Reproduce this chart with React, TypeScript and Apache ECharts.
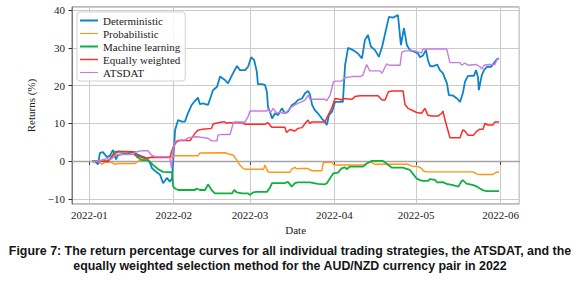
import React, { useEffect, useRef } from 'react';
import * as echarts from 'echarts';

// x values: days since 2022-01-01 ; y values: returns (%)
const seriesNames = ['Deterministic', 'Probabilistic', 'Machine learning', 'Equally weighted', 'ATSDAT'];

const deterministic: [number, number][] = [
  [1.0, 0], [2.1, 0], [3.2, -0.8], [3.9, 2.2], [5.0, 2.4], [6.5, 1.1], [7.6, 1.5], [8.7, 3.0], [9.8, 0.5],
  [10.5, 1.6], [12.0, 1.9], [14.2, 2.0], [15.7, 2.4], [18.6, 1.5], [21.2, 0.8], [22.3, -0.5], [23.0, -1.8],
  [24.1, -2.5], [26.0, -3.6], [27.1, -5.8], [28.5, -4.4], [29.6, -5.4], [30.4, -4.5], [31.5, 8.3], [32.6, 10.9],
  [34.0, 10.5], [35.1, 10.5], [36.2, 12.7], [37.6, 14.9], [38.8, 16.0], [39.9, 16.8], [40.6, 15.1], [41.7, 15.3],
  [43.6, 14.9], [45.4, 18.8], [46.9, 19.7], [48.0, 22.4], [49.8, 21.5], [50.9, 20.6], [52.4, 22.8], [54.2, 25.2],
  [55.3, 24.1], [57.2, 24.1], [58.3, 25.0], [59.4, 27.5], [60.5, 26.8], [61.5, 23.7], [61.9, 20.4], [63.4, 20.4],
  [64.5, 20.2], [65.2, 18.4], [65.6, 14.4], [66.3, 13.1], [67.1, 11.3], [68.2, 12.7], [69.3, 12.2], [70.7, 14.0],
  [71.8, 12.7], [72.9, 13.1], [74.4, 14.9], [75.5, 15.3], [76.6, 16.2], [78.1, 16.6], [79.2, 18.0], [80.3, 18.6],
  [81.0, 17.7], [81.8, 14.9], [82.8, 13.5], [83.9, 12.7], [85.4, 11.3], [86.5, 10.4], [87.2, 9.6], [88.0, 12.2],
  [89.1, 13.1], [90.2, 15.7], [91.3, 15.7], [93.1, 15.7], [93.9, 25.4], [95.0, 30.0], [96.8, 29.4], [98.6, 28.5],
  [100.1, 27.2], [101.2, 32.1], [102.3, 33.4], [103.4, 30.3], [104.9, 29.4], [106.3, 27.6], [107.5, 30.3],
  [109.3, 36.0], [110.0, 38.2], [111.5, 38.0], [113.3, 38.7], [114.4, 30.7], [115.5, 35.2], [116.6, 30.7],
  [117.7, 29.4], [119.5, 28.9], [120.7, 28.5], [121.4, 27.5], [122.5, 28.0], [123.6, 29.4], [124.3, 26.8],
  [125.1, 25.2], [126.2, 25.1], [127.7, 25.6], [128.7, 24.1], [129.8, 23.3], [131.3, 20.6], [132.0, 17.5],
  [133.5, 17.4], [135.0, 16.6], [136.1, 15.7], [137.2, 18.2], [137.9, 21.0], [139.0, 22.6], [140.5, 22.6],
  [141.2, 22.6], [142.0, 24.1], [142.7, 22.2], [143.0, 18.8], [144.1, 22.8], [144.9, 24.1], [146.0, 25.0],
  [147.5, 25.0], [148.9, 26.3], [149.7, 27.0], [150.4, 27.2],
];

const probabilistic: [number, number][] = [
  [1.0, 0], [3.2, 0], [4.5, -0.8], [5.8, -0.3], [8.2, -0.3], [9.4, -0.8], [10.5, -0.6], [16.8, -0.6], [17.9, 0],
  [19.3, 0.6], [21.5, 0.6], [23.0, 1.2], [30.4, 1.2], [31.5, 1.45], [39.9, 1.45], [40.6, 2.2], [49.8, 2.25],
  [50.9, 2.0], [52.9, 1.6], [54.1, 0.3], [55.3, -1.0], [56.5, -1.9], [57.2, -2.1], [64.0, -2.1], [64.5, -1.0],
  [65.6, -2.8], [66.3, -2.9], [73.7, -2.9], [74.3, -2.1], [75.5, -1.6], [76.0, -2.0], [77.3, -1.9], [80.3, -1.9],
  [81.0, -2.3], [82.0, -2.5], [85.4, -2.5], [85.9, -0.4], [87.0, -0.3], [89.1, -0.3], [89.6, -0.8], [90.2, -1.0],
  [101.2, -1.0], [103.0, -0.1], [104.9, -0.8], [117.0, -0.8], [118.5, -1.3], [120.7, -1.4], [122.0, -1.9],
  [122.5, -2.5], [123.6, -2.8], [141.0, -2.8], [142.3, -3.4], [143.4, -3.5], [148.2, -3.5], [149.3, -2.9],
  [150.4, -2.9],
];

const machineLearning: [number, number][] = [
  [1.0, 0], [5.0, 0], [6.9, 0], [8.2, 1.2], [9.4, 2.5], [10.5, 2.6], [16.8, 2.5], [17.4, 1.2], [19.3, 0.3],
  [21.5, 0.3], [22.9, -0.6], [24.1, -1.4], [25.3, -2.1], [27.1, -2.8], [30.4, -2.9], [30.8, -6.7], [31.5, -7.2],
  [32.6, -7.6], [38.8, -7.6], [39.4, -7.2], [40.6, -7.6], [42.5, -7.6], [43.6, -6.1], [44.9, -7.6], [46.1, -8.5],
  [52.4, -8.5], [53.2, -7.6], [54.1, -8.2], [56.1, -8.5], [58.3, -8.5], [59.0, -8.9], [60.2, -8.2], [61.6, -8.1],
  [65.2, -8.1], [66.3, -7.0], [67.1, -5.8], [71.8, -5.8], [72.9, -5.4], [74.3, -6.7], [75.5, -5.8], [76.6, -5.6],
  [81.0, -5.6], [83.9, -6.0], [86.5, -6.1], [87.2, -5.8], [88.4, -4.5], [89.6, -3.2], [91.3, -3.0], [92.6, -1.9],
  [93.9, -1.6], [94.5, -2.1], [95.7, -1.4], [100.5, -1.4], [101.8, -0.6], [103.8, 0.1], [107.8, 0.1],
  [108.6, -0.3], [109.8, -1.0], [111.1, -1.7], [115.2, -1.7], [115.9, -1.9], [117.7, -2.3], [118.9, -3.4],
  [120.2, -4.6], [121.4, -5.0], [122.5, -5.2], [124.3, -5.2], [125.1, -4.7], [126.9, -4.9], [127.7, -5.6],
  [129.8, -5.5], [131.2, -6.0], [133.5, -6.3], [135.5, -6.7], [136.7, -5.2], [137.1, -5.0], [138.5, -5.9],
  [141.0, -6.3], [142.3, -6.7], [143.4, -7.2], [144.6, -7.7], [146.0, -7.9], [150.4, -7.9],
];

const equallyWeighted: [number, number][] = [
  [1.0, 0], [3.2, 0], [6.9, 0], [8.2, 1.2], [9.4, 2.1], [10.5, 2.5], [15.7, 2.5], [16.8, 1.6], [18.6, 1.2],
  [20.4, 0.8], [22.3, 1.0], [29.6, 1.0], [30.2, 2.5], [30.8, 3.8], [32.1, 5.2], [33.3, 5.5], [37.0, 5.5],
  [37.6, 6.1], [38.8, 7.4], [39.9, 8.2], [41.7, 8.5], [44.9, 8.7], [45.4, 9.8], [46.1, 10.0], [48.7, 10.4],
  [49.8, 10.4], [50.4, 10.0], [50.9, 10.2], [56.1, 10.2], [57.2, 9.8], [64.5, 9.8], [65.6, 10.2], [67.0, 9.0],
  [71.8, 9.0], [72.4, 7.6], [73.7, 8.4], [75.5, 8.0], [76.6, 8.7], [78.1, 8.9], [79.2, 10.0], [80.3, 10.9],
  [80.9, 10.0], [81.8, 10.4], [86.5, 10.4], [87.7, 12.2], [89.0, 14.0], [90.2, 16.6], [92.0, 16.4], [92.6, 16.2],
  [93.1, 16.6], [96.5, 16.4], [97.5, 17.1], [99.4, 17.3], [106.0, 17.3], [107.5, 16.2], [108.6, 16.2],
  [109.8, 18.4], [111.1, 18.6], [115.2, 18.6], [115.9, 15.0], [117.0, 14.0], [118.5, 13.5], [120.2, 12.9],
  [122.0, 12.7], [123.2, 14.0], [124.3, 12.2], [125.7, 12.0], [128.1, 12.0], [129.4, 12.7], [129.8, 13.3],
  [130.6, 10.9], [131.8, 7.8], [132.4, 6.2], [136.1, 6.2], [137.1, 8.3], [137.9, 8.0], [139.0, 6.9], [141.0, 6.9],
  [142.3, 8.0], [143.4, 8.5], [144.6, 8.5], [145.2, 10.0], [146.4, 9.6], [148.2, 9.6], [148.9, 10.4], [150.4, 10.4],
];

const atsdat: [number, number][] = [
  [1.0, 0], [3.2, 0], [5.8, 0.6], [8.2, 0.6], [9.4, 1.6], [10.5, 1.8], [15.7, 1.8], [16.8, 2.4], [19.3, 2.8],
  [21.5, 2.8], [22.9, 1.6], [24.1, 1.2], [28.9, 1.2], [29.6, 0.8], [30.2, -1.9], [30.8, 3.4], [31.5, 5.2],
  [32.6, 5.6], [35.1, 5.6], [36.2, 6.2], [38.8, 6.5], [40.6, 6.4], [43.6, 6.1], [44.9, 5.4], [46.9, 5.4],
  [47.2, 6.9], [48.7, 7.1], [51.7, 7.1], [52.9, 10.3], [53.5, 10.4], [57.2, 10.4], [58.3, 11.8], [59.0, 13.3],
  [65.2, 13.3], [65.6, 13.8], [66.6, 12.9], [67.5, 14.0], [68.8, 12.7], [70.0, 13.0], [71.0, 12.7], [72.4, 13.0],
  [74.3, 14.4], [75.5, 14.9], [76.6, 15.3], [77.8, 15.7], [79.2, 16.2], [80.3, 17.5], [81.0, 16.4], [86.5, 16.4],
  [87.2, 16.0], [88.4, 17.5], [89.6, 21.0], [90.5, 21.2], [92.6, 21.2], [93.9, 22.1], [96.5, 22.4], [99.4, 22.4],
  [100.5, 22.8], [101.8, 25.6], [103.0, 23.9], [106.7, 23.9], [107.5, 23.3], [109.2, 25.8], [110.0, 25.4],
  [114.1, 25.4], [114.7, 28.8], [115.9, 29.2], [119.5, 29.2], [122.0, 28.6], [122.5, 29.7], [131.2, 29.7],
  [132.4, 26.1], [136.1, 26.1], [136.7, 25.4], [137.9, 26.0], [139.0, 25.4], [142.0, 25.6], [143.4, 25.0],
  [144.1, 24.4], [144.9, 25.4], [146.4, 25.6], [148.9, 25.6], [149.7, 27.0], [150.4, 27.2],
];

const yTicks = [-10, 0, 10, 20, 30, 40];

const captionLines = [
  'Figure 7: The return percentage curves for all individual trading strategies, the ATSDAT, and the',
  'equally weighted selection method for the AUD/NZD currency pair in 2022',
];

const colors = ['#0e84c8', '#ff9416', '#10b040', '#ff2a2a', '#c77de0'];
const widths = [1.8, 1.4, 1.8, 1.5, 1.4];
const legendIcons = [
  'path://M0,0H18V2H0Z',
  'path://M0,0H18V1.1H0Z',
  'path://M0,0H18V2H0Z',
  'path://M0,0H18V1.4H0Z',
  'path://M0,0H18V1.1H0Z',
];

const DAY = 86400000;
const BASE = new Date(2022, 0, 1).getTime();
const toTs = (pts: [number, number][]) => pts.map(([d, v]) => [BASE + d * DAY, v]);

const SERIF = '"Liberation Serif", "Times New Roman", serif';

export default function App() {
  const ref = useRef<HTMLDivElement>(null);
  useEffect(() => {
    document.body.style.margin = '0';
    if (!ref.current) return;
    const chart = echarts.init(ref.current, undefined, { renderer: 'svg' });
    const all = [deterministic, probabilistic, machineLearning, equallyWeighted, atsdat];
    chart.setOption({
      animation: false,
      textStyle: { fontFamily: SERIF },
      title: {
        text: captionLines.join('\n'),
        left: 'center',
        top: 243,
        padding: 0,
        textStyle: {
          fontFamily: '"Liberation Sans", Arial, sans-serif',
          fontWeight: 'bold',
          fontSize: 12.4,
          lineHeight: 15.5,
          color: '#151515',
        },
      },
      grid: {
        left: 72, right: 60.7, top: 7, bottom: 77,
        show: true, borderColor: '#7a7a7a', borderWidth: 1,
      },
      legend: {
        orient: 'vertical',
        left: 77,
        top: 12,
        itemWidth: 18,
        itemHeight: 10,
        itemGap: 2,
        padding: [3, 5, 3, 3],
        backgroundColor: 'rgba(255,255,255,0.85)',
        borderColor: '#d2d2d2',
        borderWidth: 1,
        borderRadius: 3,
        textStyle: { fontFamily: SERIF, fontSize: 11, color: '#222', lineHeight: 11 },
        data: seriesNames.map((name, i) => ({
          name,
          icon: legendIcons[i],
          itemStyle: { color: colors[i], borderWidth: 0 },
        })),
      },
      xAxis: {
        type: 'time',
        min: BASE - 6.35 * DAY,
        max: BASE + 157.86 * DAY,
        splitNumber: 6,
        minInterval: 28 * DAY,
        name: 'Date',
        nameLocation: 'middle',
        nameGap: 18,
        nameTextStyle: { fontFamily: SERIF, fontSize: 11, color: '#222' },
        axisLine: { show: true, lineStyle: { color: '#7a7a7a', width: 1 } },
        axisTick: { show: true, length: 3.5, lineStyle: { color: '#333' } },
        axisLabel: {
          margin: 5,
          fontFamily: SERIF,
          fontSize: 11,
          color: '#222',
          showMinLabel: false,
          showMaxLabel: false,
          formatter: (val: number) => {
            const d = new Date(val);
            return `${d.getFullYear()}-${String(d.getMonth() + 1).padStart(2, '0')}`;
          },
        },
        splitLine: { show: true, lineStyle: { color: '#cbcbcb', width: 1 } },
      },
      yAxis: {
        type: 'value',
        min: -11.3,
        max: 40.8,
        splitNumber: 5,
        name: 'Returns (%)',
        nameLocation: 'middle',
        nameGap: 30,
        nameTextStyle: { fontFamily: SERIF, fontSize: 11, color: '#222' },
        axisLine: { show: true, lineStyle: { color: '#7a7a7a', width: 1 } },
        axisTick: { show: true, length: 3.5, lineStyle: { color: '#333' } },
        axisLabel: {
          margin: 7,
          fontFamily: SERIF,
          fontSize: 11,
          color: '#222',
          showMinLabel: false,
          showMaxLabel: false,
          formatter: (v: number) =>
            yTicks.includes(v) ? (v < 0 ? '\u2212' + Math.abs(v) : String(v)) : '',
        },
        splitLine: { show: true, lineStyle: { color: '#cbcbcb', width: 1 } },
      },
      series: all.map((pts, i) => ({
        type: 'line',
        name: seriesNames[i],
        data: toTs(pts),
        symbol: 'none',
        showSymbol: false,
        z: 2 + i,
        lineStyle: { color: colors[i], width: widths[i] },
        itemStyle: { color: colors[i] },
        ...(i === 0
          ? {
              markLine: {
                silent: true,
                symbol: 'none',
                label: { show: false },
                lineStyle: { color: '#a5a5a5', width: 1.3, type: 'solid' },
                data: [{ yAxis: 0 }],
                z: 1,
              },
            }
          : {}),
      })),
    });
    return () => chart.dispose();
  }, []);
  return <div ref={ref} style={{ width: 580, height: 281 }} />;
}
